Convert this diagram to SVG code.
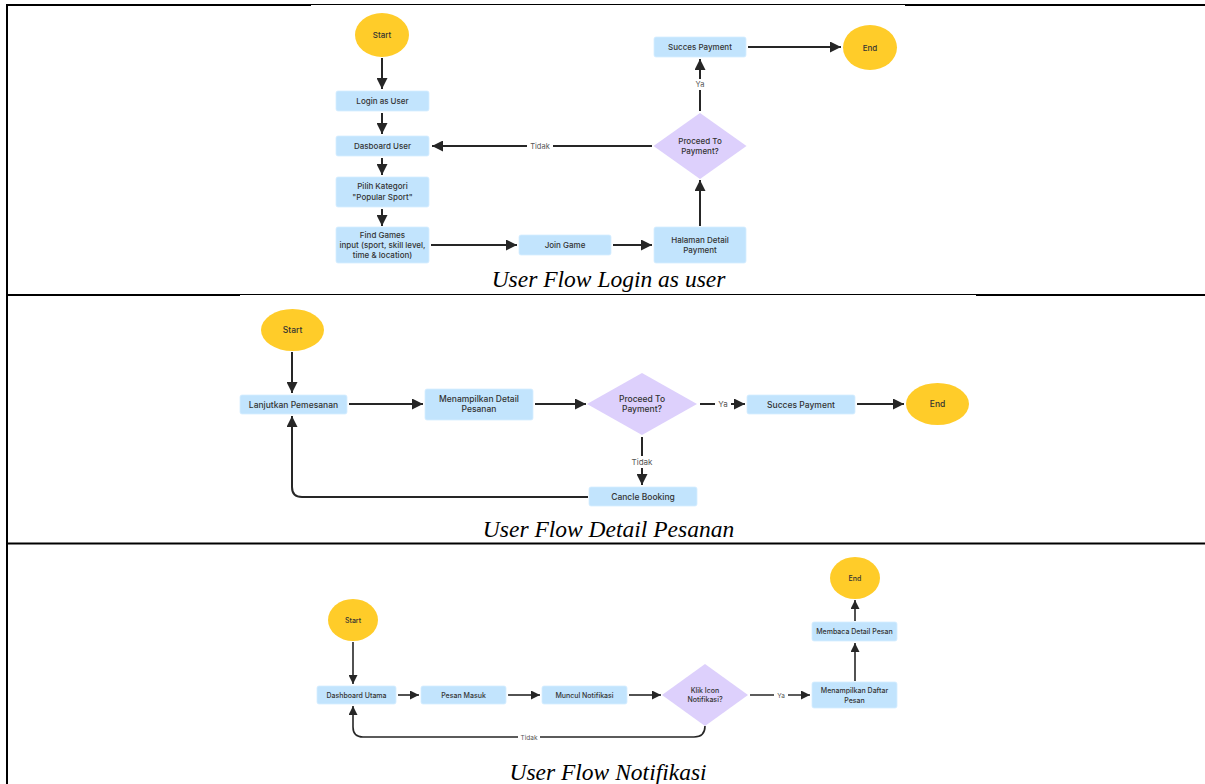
<svg xmlns="http://www.w3.org/2000/svg" width="1205" height="784" viewBox="0 0 1205 784">
<style>
.bg{fill:#ffffff}
.box{fill:#C2E4FD;stroke:#D6EEFF;stroke-width:0.8}
.term{fill:#FFCC29}
.dec{fill:#DDD0FC}
.t{font-family:Inter,"Noto Sans",sans-serif;font-weight:500;fill:#333333;text-anchor:middle}
.s1{font-size:8px}
.s2{font-size:8.5px}
.s3{font-size:7px}
.lbl{font-family:Inter,"Noto Sans",sans-serif;fill:#555555;text-anchor:middle}
.cap{font-family:"Liberation Serif","Times New Roman",serif;font-style:italic;font-size:23.5px;fill:#000000;text-anchor:middle}
.c1{fill:none;stroke:#262626;stroke-width:2}
.c3{fill:none;stroke:#262626;stroke-width:1.6}
.lb{fill:#ffffff}
.rule{stroke:#000000;fill:none}
</style>
<defs>
<marker id="ah" viewBox="0 0 10 10" refX="10" refY="5" markerWidth="11" markerHeight="11" markerUnits="userSpaceOnUse" orient="auto">
<path d="M0,0 L10,5 L0,10 z" fill="#262626"/>
</marker>
<marker id="ahs" viewBox="0 0 10 10" refX="10" refY="5" markerWidth="9" markerHeight="9" markerUnits="userSpaceOnUse" orient="auto">
<path d="M0,0 L10,5 L0,10 z" fill="#262626"/>
</marker>
</defs>
<rect class="bg" x="0" y="0" width="1205" height="784"/>

<g id="table">
<line class="rule" x1="7" y1="4" x2="7" y2="784" stroke-width="2"/>
<line class="rule" x1="6" y1="5" x2="311" y2="5" stroke-width="2"/>
<line class="rule" x1="311" y1="4.5" x2="905" y2="4.5" stroke-width="1"/>
<line class="rule" x1="905" y1="5" x2="1205" y2="5" stroke-width="2"/>
<line class="rule" x1="6" y1="295" x2="240" y2="295" stroke-width="2"/>
<line class="rule" x1="240" y1="294.5" x2="976" y2="294.5" stroke-width="1"/>
<line class="rule" x1="976" y1="295" x2="1205" y2="295" stroke-width="2"/>
<line class="rule" x1="6" y1="543.5" x2="1205" y2="543.5" stroke-width="2"/>
</g>

<g id="connectors">
<!-- flow 1 -->
<path class="c1" d="M382,58 V89" marker-end="url(#ah)"/>
<path class="c1" d="M382,113 V134" marker-end="url(#ah)"/>
<path class="c1" d="M382,158 V175" marker-end="url(#ah)"/>
<path class="c1" d="M382,209 V226" marker-end="url(#ah)"/>
<path class="c1" d="M431,245 H517" marker-end="url(#ah)"/>
<path class="c1" d="M613,245 H652" marker-end="url(#ah)"/>
<path class="c1" d="M700,226 V180" marker-end="url(#ah)"/>
<path class="c1" d="M652,146 H432" marker-end="url(#ah)"/>
<rect class="lb" x="527" y="140" width="26" height="12"/>
<text class="lbl" x="540" y="149" font-size="7.5">Tidak</text>
<path class="c1" d="M700,111 V59" marker-end="url(#ah)"/>
<rect class="lb" x="692" y="79" width="16" height="11"/>
<text class="lbl" x="700" y="87" font-size="7.5">Ya</text>
<path class="c1" d="M748,47 H841" marker-end="url(#ah)"/>
<!-- flow 2 -->
<path class="c1" d="M292,352 V393" marker-end="url(#ah)"/>
<path class="c1" d="M349,404 H423" marker-end="url(#ah)"/>
<path class="c1" d="M535,404 H586" marker-end="url(#ah)"/>
<path class="c1" d="M700,404 H745" marker-end="url(#ah)"/>
<rect class="lb" x="715" y="398" width="16" height="12"/>
<text class="lbl" x="723" y="407" font-size="8">Ya</text>
<path class="c1" d="M857,404 H904" marker-end="url(#ah)"/>
<path class="c1" d="M642,437 V485" marker-end="url(#ah)"/>
<rect class="lb" x="629" y="456" width="26" height="12"/>
<text class="lbl" x="642" y="465" font-size="8">Tidak</text>
<path class="c1" d="M588,497 H302 Q292,497 292,487 V416" marker-end="url(#ah)"/>
<!-- flow 3 -->
<path class="c3" d="M353,642 V684" marker-end="url(#ahs)"/>
<path class="c3" d="M398,695 H419" marker-end="url(#ahs)"/>
<path class="c3" d="M508,695 H540" marker-end="url(#ahs)"/>
<path class="c3" d="M629,695 H661" marker-end="url(#ahs)"/>
<path class="c3" d="M750,695 H810" marker-end="url(#ahs)"/>
<rect class="lb" x="774" y="690" width="14" height="10"/>
<text class="lbl" x="781" y="697.5" font-size="6.5">Ya</text>
<path class="c3" d="M855,681 V643" marker-end="url(#ahs)"/>
<path class="c3" d="M855,621 V600" marker-end="url(#ahs)"/>
<path class="c3" d="M705,726 Q705,737 694,737 H363 Q353,737 353,727 V706" marker-end="url(#ahs)"/>
<rect class="lb" x="518" y="732" width="22" height="10"/>
<text class="lbl" x="529" y="739.5" font-size="6.5">Tidak</text>
</g>

<!-- flow 1 nodes -->
<g id="f1-start"><ellipse class="term" cx="382" cy="35" rx="27" ry="22"/><text class="t s1" x="382" y="38">Start</text></g>
<g id="f1-login"><rect class="box" x="336" y="91" width="93" height="20" rx="2"/><text class="t s1" x="382.5" y="104">Login as User</text></g>
<g id="f1-dash"><rect class="box" x="336" y="136" width="93" height="20" rx="2"/><text class="t s1" x="382.5" y="149">Dasboard User</text></g>
<g id="f1-pilih"><rect class="box" x="336" y="177" width="93" height="30" rx="2"/><text class="t s1" x="382.5" y="189">Pilih Kategori</text><text class="t s1" x="382.5" y="199.5">"Popular Sport"</text></g>
<g id="f1-find"><rect class="box" x="336" y="227" width="93" height="36" rx="2"/><text class="t s1" x="382.5" y="238">Find Games</text><text class="t s1" x="382.5" y="248">input (sport, skill level,</text><text class="t s1" x="382.5" y="258">time &amp; location)</text></g>
<g id="f1-join"><rect class="box" x="519" y="235" width="92" height="20" rx="2"/><text class="t s1" x="565" y="248">Join Game</text></g>
<g id="f1-halaman"><rect class="box" x="654" y="227" width="92" height="36" rx="2"/><text class="t s1" x="700" y="243">Halaman Detail</text><text class="t s1" x="700" y="253">Payment</text></g>
<g id="f1-decision"><polygon class="dec" points="700,113 746.5,146 700,179 653.5,146"/><text class="t s1" x="700" y="144">Proceed To</text><text class="t s1" x="700" y="154">Payment?</text></g>
<g id="f1-success"><rect class="box" x="654" y="37" width="92" height="20" rx="2"/><text class="t s1" x="700" y="50">Succes Payment</text></g>
<g id="f1-end"><ellipse class="term" cx="870" cy="47.5" rx="27" ry="22.5"/><text class="t s1" x="870" y="50.5">End</text></g>
<text class="cap" x="608.5" y="287">User Flow Login as user</text>

<!-- flow 2 nodes -->
<g id="f2-start"><ellipse class="term" cx="292.5" cy="330" rx="31.5" ry="21"/><text class="t s2" x="292.5" y="333">Start</text></g>
<g id="f2-lanjut"><rect class="box" x="240" y="395" width="107" height="19" rx="2"/><text class="t s2" x="293.5" y="407.5">Lanjutkan Pemesanan</text></g>
<g id="f2-menampilkan"><rect class="box" x="425" y="389" width="108" height="31" rx="2"/><text class="t s2" x="479" y="402">Menampilkan Detail</text><text class="t s2" x="479" y="412">Pesanan</text></g>
<g id="f2-decision"><polygon class="dec" points="642,373 697,404 642,435 587,404"/><text class="t s2" x="642" y="402">Proceed To</text><text class="t s2" x="642" y="411.5">Payment?</text></g>
<g id="f2-success"><rect class="box" x="747" y="395" width="108" height="19" rx="2"/><text class="t s2" x="801" y="407.5">Succes Payment</text></g>
<g id="f2-end"><ellipse class="term" cx="937.5" cy="404" rx="31.5" ry="21"/><text class="t s2" x="937.5" y="407">End</text></g>
<g id="f2-cancel"><rect class="box" x="589" y="487" width="108" height="19" rx="2"/><text class="t s2" x="643" y="499.5">Cancle Booking</text></g>
<text class="cap" x="608.5" y="537">User Flow Detail Pesanan</text>

<!-- flow 3 nodes -->
<g id="f3-start"><ellipse class="term" cx="353" cy="620" rx="25" ry="21"/><text class="t s3" x="353" y="622.5">Start</text></g>
<g id="f3-dash"><rect class="box" x="317" y="686" width="79" height="18" rx="2"/><text class="t s3" x="356.5" y="697.5">Dashboard Utama</text></g>
<g id="f3-pesan"><rect class="box" x="421" y="686" width="85" height="18" rx="2"/><text class="t s3" x="463.5" y="697.5">Pesan Masuk</text></g>
<g id="f3-muncul"><rect class="box" x="542" y="686" width="85" height="18" rx="2"/><text class="t s3" x="584.5" y="697.5">Muncul Notifikasi</text></g>
<g id="f3-decision"><polygon class="dec" points="705,664 748,695 705,726 662,695"/><text class="t s3" x="705" y="692.5">Klik Icon</text><text class="t s3" x="705" y="702">Notifikasi?</text></g>
<g id="f3-daftar"><rect class="box" x="812" y="682" width="85" height="26" rx="2"/><text class="t s3" x="854.5" y="693">Menampilkan Daftar</text><text class="t s3" x="854.5" y="702.5">Pesan</text></g>
<g id="f3-membaca"><rect class="box" x="812" y="622" width="85" height="19" rx="2"/><text class="t s3" x="854.5" y="634">Membaca Detail Pesan</text></g>
<g id="f3-end"><ellipse class="term" cx="855" cy="578" rx="25" ry="21"/><text class="t s3" x="855" y="580.5">End</text></g>
<text class="cap" x="608" y="780">User Flow Notifikasi</text>
</svg>
